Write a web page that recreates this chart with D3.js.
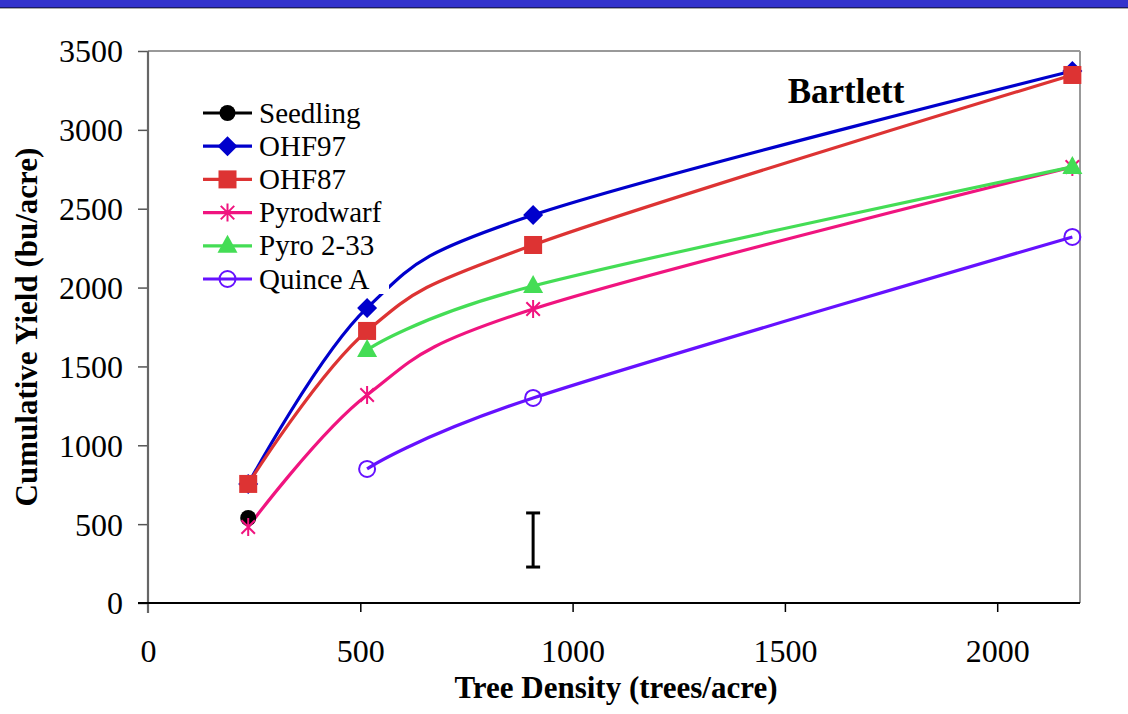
<!DOCTYPE html>
<html>
<head>
<meta charset="utf-8">
<script src="https://cdn.jsdelivr.net/npm/d3@7"></script>
<style>
  body { margin: 0; background: #fff; }
  svg { display: block; }
  svg text { font-family: 'Liberation Serif', 'Times New Roman', 'DejaVu Serif', serif !important; }
</style>
</head>
<body>
<svg id="chart" width="1128" height="714"></svg>
<script>
// ---- data ----
const seriesNames = ["Seedling", "OHF97", "OHF87", "Pyrodwarf", "Pyro 2-33", "Quince A"];
const seedling  = [[236, 539]];
const ohf97     = [[236, 755], [516, 1871], [907, 2460], [2177, 3373]];
const ohf87     = [[236, 755], [516, 1725], [907, 2270], [2177, 3348]];
const pyrodwarf = [[236, 482], [516, 1319], [907, 1864], [2177, 2765]];
const pyro233   = [[516, 1604], [907, 2010], [2177, 2765]];
const quinceA   = [[516, 850], [907, 1300], [2177, 2321]];
const errorBar  = { x: 907, low: 228, high: 571 };
const xTicks = [0, 500, 1000, 1500, 2000];
const yTicks = [0, 500, 1000, 1500, 2000, 2500, 3000, 3500];

(function () {
const seriesData = [seedling, ohf97, ohf87, pyrodwarf, pyro233, quinceA];
const colors = ["#000000", "#0000cc", "#dd3333", "#f0147f", "#44dd55", "#6611ff"];
const markers = ["dot", "diamond", "square", "asterisk", "triangle", "ring"];

const svg = d3.select("#chart");
const W = 1128;
const pL = 148, pR = 1080, pT = 51, pB = 603;

// top banner
svg.append("rect").attr("x", 0).attr("y", 0).attr("width", W).attr("height", 7).attr("fill", "#3333cc");
svg.append("line").attr("x1", 0).attr("x2", W).attr("y1", 7.5).attr("y2", 7.5).attr("stroke", "#1a1a66").attr("stroke-width", 1);
svg.append("line").attr("x1", 0).attr("x2", W).attr("y1", 8.5).attr("y2", 8.5).attr("stroke", "#aaaaaa").attr("stroke-width", 1);

const x = d3.scaleLinear().domain([0, 2195]).range([pL, pR]);
const y = d3.scaleLinear().domain([0, 3500]).range([pB, pT]);

// plot border (top & right)
svg.append("line").attr("x1", pL).attr("x2", pR).attr("y1", pT).attr("y2", pT).attr("stroke", "#999").attr("stroke-width", 2);
svg.append("line").attr("x1", pR).attr("x2", pR).attr("y1", pT).attr("y2", pB).attr("stroke", "#999").attr("stroke-width", 2);

// y axis
const yAxis = svg.append("g").attr("transform", `translate(${pL},0)`)
  .call(d3.axisLeft(y).tickValues(yTicks).tickSize(10).tickPadding(15).tickFormat(d3.format("d")));
yAxis.attr("font-family", null).attr("font-size", null);
yAxis.select(".domain").remove();
yAxis.selectAll(".tick line").attr("stroke", "#555").attr("stroke-width", 1.5);
yAxis.selectAll("text").style("font-size", "32px").attr("fill", "#000").attr("dy", "0.34em");
svg.append("line").attr("x1", pL).attr("x2", pL).attr("y1", pT).attr("y2", pB + 10)
  .attr("stroke", "#666").attr("stroke-width", 2.2);

// x axis
const xAxis = svg.append("g").attr("transform", `translate(0,${pB})`)
  .call(d3.axisBottom(x).tickValues(xTicks).tickSize(9).tickPadding(36).tickFormat(d3.format("d")));
xAxis.attr("font-family", null).attr("font-size", null);
xAxis.select(".domain").remove();
xAxis.selectAll(".tick line").attr("stroke", "#000").attr("stroke-width", 1.5);
xAxis.selectAll(".tick").filter(d => d === 0).select("line").remove();
xAxis.selectAll("text").style("font-size", "32px").attr("fill", "#000").attr("y", 59).attr("dy", null);
svg.append("line").attr("x1", pL - 10).attr("x2", pR).attr("y1", pB).attr("y2", pB)
  .attr("stroke", "#000").attr("stroke-width", 1.8);

// axis titles
svg.append("text").attr("x", 616).attr("y", 698).attr("text-anchor", "middle")
  .style("font-size", "31px").attr("font-weight", "bold").text("Tree Density (trees/acre)");
svg.append("text").attr("transform", `translate(37,${(pT + pB) / 2}) rotate(-90)`)
  .attr("text-anchor", "middle").style("font-size", "31px").attr("font-weight", "bold")
  .text("Cumulative Yield (bu/acre)");

// title
svg.append("text").attr("x", 846).attr("y", 103).attr("text-anchor", "middle")
  .style("font-size", "35px").attr("font-weight", "bold").text("Bartlett");

// lines
const lineGen = d3.line().x(d => x(d[0])).y(d => y(d[1])).curve(d3.curveCardinal.tension(0));
const plot = svg.append("g");
seriesData.forEach((data, i) => {
  if (data.length > 1) {
    plot.append("path").datum(data).attr("d", lineGen)
      .attr("fill", "none").attr("stroke", colors[i]).attr("stroke-width", 3.2);
  }
});

function drawMarker(g, type, cx, cy, color) {
  switch (type) {
    case "dot":
      g.append("circle").attr("cx", cx).attr("cy", cy).attr("r", 8).attr("fill", color);
      break;
    case "diamond":
      g.append("path").attr("d", `M${cx},${cy - 10}L${cx + 10},${cy}L${cx},${cy + 10}L${cx - 10},${cy}Z`).attr("fill", color);
      break;
    case "square":
      g.append("rect").attr("x", cx - 9).attr("y", cy - 9).attr("width", 18).attr("height", 18).attr("fill", color);
      break;
    case "asterisk": {
      const r = 9, k = r * 0.75;
      g.append("path").attr("d", `M${cx - k},${cy - k}L${cx + k},${cy + k}M${cx - k},${cy + k}L${cx + k},${cy - k}M${cx},${cy - r}L${cx},${cy + r}`)
        .attr("stroke", color).attr("stroke-width", 2).attr("fill", "none");
      break;
    }
    case "triangle":
      g.append("path").attr("d", `M${cx},${cy - 11}L${cx + 10},${cy + 7}L${cx - 10},${cy + 7}Z`).attr("fill", color);
      break;
    case "ring":
      g.append("circle").attr("cx", cx).attr("cy", cy).attr("r", 8).attr("fill", "none")
        .attr("stroke", color).attr("stroke-width", 2);
      break;
  }
}

seriesData.forEach((data, i) => {
  data.forEach(d => drawMarker(plot, markers[i], x(d[0]), y(d[1]), colors[i]));
});

// error bar
const eb = svg.append("g").attr("stroke", "#000").attr("stroke-width", 3);
eb.append("line").attr("x1", x(errorBar.x)).attr("x2", x(errorBar.x)).attr("y1", y(errorBar.low)).attr("y2", y(errorBar.high));
eb.append("line").attr("x1", x(errorBar.x) - 7).attr("x2", x(errorBar.x) + 7).attr("y1", y(errorBar.low)).attr("y2", y(errorBar.low));
eb.append("line").attr("x1", x(errorBar.x) - 7).attr("x2", x(errorBar.x) + 7).attr("y1", y(errorBar.high)).attr("y2", y(errorBar.high));

// legend
const lg = svg.append("g");
lg.append("rect").attr("x", 192).attr("y", 92).attr("width", 197).attr("height", 202).attr("fill", "#fff");
seriesNames.forEach((name, i) => {
  const ly = 113 + i * 33.2;
  lg.append("line").attr("x1", 203).attr("x2", 252).attr("y1", ly).attr("y2", ly)
    .attr("stroke", colors[i]).attr("stroke-width", 3.2);
  drawMarker(lg, markers[i], 227.5, ly, colors[i]);
  lg.append("text").attr("x", 259).attr("y", ly + 9.5).style("font-size", "29px").attr("fill", "#000").text(name);
});
})();
</script>
</body>
</html>
